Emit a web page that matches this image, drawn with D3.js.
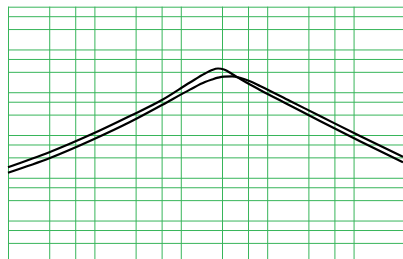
<!DOCTYPE html>
<html>
<head>
<meta charset="utf-8">
<script src="https://cdn.jsdelivr.net/npm/d3@7"></script>
<style>
  body { margin: 0; background: #fff; }
  svg { display: block; }
  .grid line { stroke: #37b55a; stroke-width: 1; }
  .grid path { display: none; }
</style>
</head>
<body>
<div id="chart"></div>
<script>
var width = 403;
var height = 259;

// frequency points shared by both curves
var freq = [10, 30.6, 93.8, 258, 605, 1276, 1905, 2296, 2698, 3162, 3917, 4842, 6324, 8260, 18370, 40830, 118600, 373300];
// magnitude, sharper response
var magA = [0.0176, 0.0400, 0.105, 0.278, 0.658, 1.69, 2.74, 3.31, 3.59, 3.40, 2.67, 2.06, 1.51, 1.13, 0.490, 0.212, 0.0716, 0.0230];
// magnitude, flatter response
var magB = [0.0131, 0.0290, 0.0764, 0.201, 0.502, 1.15, 1.73, 1.98, 2.19, 2.32, 2.34, 2.17, 1.81, 1.40, 0.624, 0.278, 0.0946, 0.0310];

var xTicks = [10, 30, 60, 100, 300, 600, 1000, 3000, 6000, 10000, 30000, 60000, 100000];
var yTicks = [];
[1e-4, 1e-3, 1e-2, 1e-1, 1, 10, 100].forEach(function (d) {
  yTicks.push(d, d * 3, d * 6);
});
yTicks = yTicks.filter(function (d) { return d <= 100; });

var xScale = d3.scaleLog().domain([10, 373300]).range([8, 403]);
var yScale = d3.scaleLog().domain([1e-4, 100]).range([263.3, 6.7]);

var svg = d3.select("#chart")
  .append("svg")
  .attr("width", width)
  .attr("height", height);

// vertical grid
svg.append("g")
  .attr("class", "grid")
  .attr("transform", "translate(0,6.7)")
  .call(d3.axisTop(xScale).tickValues(xTicks).tickSize(-260).tickFormat(""));

// horizontal grid
svg.append("g")
  .attr("class", "grid")
  .attr("transform", "translate(8,0)")
  .call(d3.axisLeft(yScale).tickValues(yTicks).tickSize(-400).tickFormat(""));

var line = d3.line()
  .x(function (d) { return xScale(d[0]); })
  .y(function (d) { return yScale(d[1]); })
  .curve(d3.curveMonotoneX);

[magA, magB].forEach(function (mag) {
  svg.append("path")
    .datum(freq.map(function (f, i) { return [f, mag[i]]; }))
    .attr("fill", "none")
    .attr("stroke", "#000")
    .attr("stroke-width", 2.2)
    .attr("d", line);
});
</script>
</body>
</html>
